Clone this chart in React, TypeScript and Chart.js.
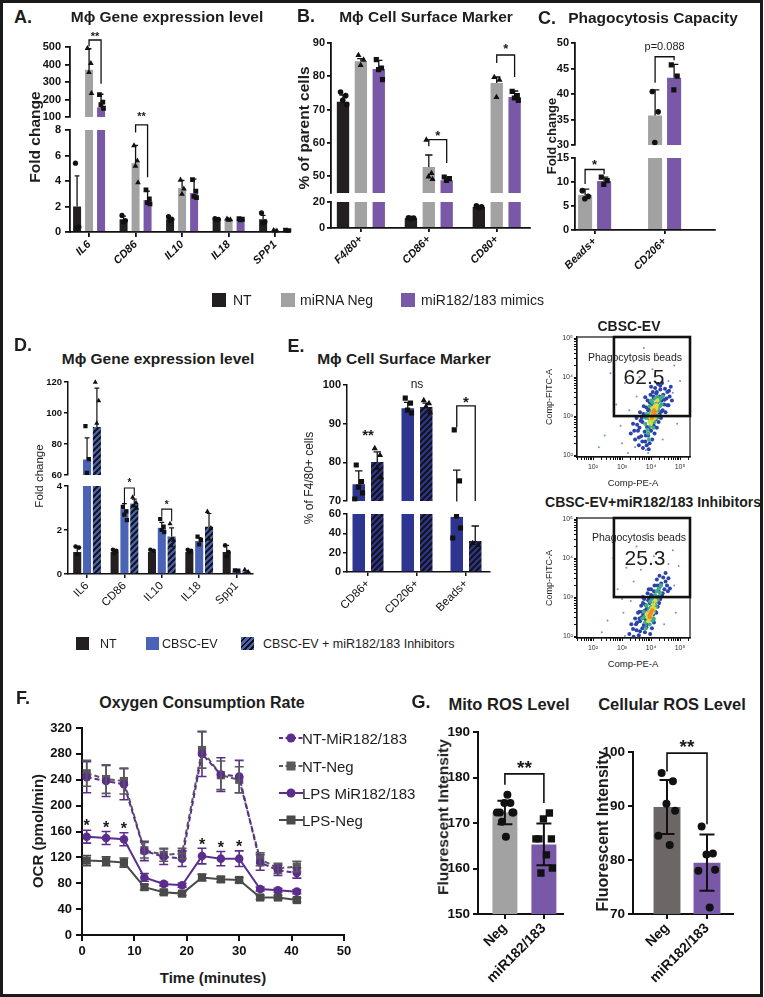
import React, { useEffect, useRef } from "react";
import { Chart, registerables } from "chart.js";

Chart.register(...registerables);

const FONT = "'Liberation Sans', Arial, Helvetica, sans-serif";
Chart.defaults.font.family = FONT;
Chart.defaults.color = "#111";

// ---------- colours ----------
const C_BLACK = "#231f20";
const C_GRAY = "#a2a2a2";
const C_PURPLE = "#7a58a8";
const C_BLUE_D = "#4a63b6";
const C_BLUE_E = "#2e3591";
const C_F_PURPLE = "#5b2e8e";
const C_F_GRAY = "#4a4a4a";
const C_G_DGRAY = "#6d6666";

// ---------- A ----------
const A_CATS = ["IL6", "CD86", "IL10", "IL18", "SPP1"];
const A_NT = [2.0, 1.0, 1.0, 1.0, 1.0];
const A_NT_SD = [2.4, 0.25, 0.15, 0.05, 0.3];
const A_NT_PTS = [[5.4, 0.4, 0.3], [1.3, 0.9, 0.8], [1.2, 1.0, 0.9], [1.05, 1.0, 0.95], [1.5, 0.8, 0.7]];
const A_NEG = [370, 5.4, 3.45, 1.0, 0.1];
const A_NEG_SD = [120, 1.4, 0.6, 0.05, 0.04];
const A_NEG_PTS = [[494, 408, 357, 237], [6.8, 5.6, 5.2, 3.9], [4.1, 3.4, 3.0], [1.05, 1.0, 0.95], [0.14, 0.1, 0.06]];
const A_MIR = [155, 2.5, 3.05, 1.0, 0.1];
const A_MIR_SD = [75, 0.7, 1.1, 0.05, 0.04];
const A_MIR_PTS = [[228, 185, 170, 150], [3.3, 2.6, 2.3, 2.2], [4.1, 3.2, 2.8, 2.7], [1.05, 1.0, 0.95], [0.14, 0.1, 0.06]];

// ---------- B ----------
const B_CATS = ["F4/80+", "CD86+", "CD80+"];
const B_NT = [72.4, 7.6, 16.2];
const B_NT_SD = [2.0, 0.3, 0.6];
const B_NT_PTS = [[75.3, 74.2, 72.8, 71.5], [7.9, 7.6, 7.4], [17.0, 16.3, 15.8]];
const B_NEG = [84.5, 52.8, 78.0];
const B_NEG_SD = [0.8, 3.6, 1.8];
const B_NEG_PTS = [[86.4, 85.0, 83.4], [61.0, 51.0, 50.0, 49.2], [79.8, 79.0, 73.8]];
const B_MIR = [82.2, 48.8, 73.8];
const B_MIR_SD = [2.6, 0.6, 1.8];
const B_MIR_PTS = [[85.0, 82.5, 82.0, 79.0], [49.8, 49.3, 48.8], [75.5, 74.2, 73.5, 72.8]];

// ---------- C ----------
const C_CATS = ["Beads+", "CD206+"];
const C_NEG = [7.3, 35.8];
const C_NEG_SD = [1.2, 5.0];
const C_NEG_PTS = [[8.2, 7.0, 6.5], [40.5, 36.5, 30.5]];
const C_MIR = [10.2, 43.2];
const C_MIR_SD = [0.8, 2.6];
const C_MIR_PTS = [[11.0, 10.3, 9.5], [45.7, 43.5, 40.8]];

// ---------- D ----------
const D_CATS = ["IL6", "CD86", "IL10", "IL18", "Spp1"];
const D_NT = [1.0, 1.0, 1.0, 1.0, 1.0];
const D_NT_SD = [0.2, 0.08, 0.1, 0.1, 0.3];
const D_NT_PTS = [[1.25, 1.2, 0.9], [1.1, 1.05, 0.95], [1.1, 1.05], [1.1, 1.05, 1.0], [1.3, 1.0, 0.8]];
const D_EV = [70, 2.95, 2.1, 1.5, 0.15];
const D_EV_SD = [14, 0.25, 0.25, 0.15, 0.02];
const D_EV_PTS = [[91.6, 70.3, 61.3], [3.05, 2.85, 2.7, 2.45], [2.5, 2.15, 2.0, 1.9], [1.7, 1.55, 1.35], [0.16, 0.15]];
const D_INH = [91, 3.2, 1.7, 2.15, 0.12];
const D_INH_SD = [25, 0.2, 0.4, 0.6, 0.03];
const D_INH_PTS = [[120, 108, 93.5], [3.5, 3.25, 3.1, 3.0], [2.3, 1.55, 1.3], [2.85, 2.1, 1.6], [0.2, 0.1]];

// ---------- E ----------
const E_CATS = ["CD86+", "CD206+", "Beads+"];
const E_EV = [74.3, 94.0, 57.0];
const E_EV_SD = [3.5, 1.5, 21.0];
const E_EV_PTS = [[79.3, 75.0, 73.6, 72.1, 70.5], [96.6, 95.3, 93.5, 92.8], [88.4, 75.2, 58.0, 45.5, 35.2]];
const E_INH = [80.1, 94.3, 32.1];
const E_INH_SD = [2.6, 1.0, 15.5];
const E_INH_PTS = [[83.7, 81.9, 78.6, 76.2], [96.1, 95.3, 94.5, 93.0], [30.0, 28.0]];

// ---------- flow cytometry (log10 PE, log10 FITC) ----------
const FLOW_GATE_PE = 525;
const FLOW_GATE_FITC = 1000;
const FLOW1_OUT = [[2.4, 2.5], [2.8, 3.3], [3.0, 2.3], [3.1, 3.85], [2.6, 4.1], [3.4, 4.4], [4.2, 4.6], [4.9, 2.8], [5.0, 3.9], [2.2, 2.2], [3.6, 4.0], [4.8, 4.3], [3.2, 2.05], [2.95, 2.75], [4.4, 2.4], [3.75, 4.75], [3.9, 2.05], [3.82, 2.12], [3.5, 3.5], [4.6, 3.9], [3.25, 3.15], [4.75, 3.6], [3.45, 2.2], [4.05, 4.2]];
const FLOW1_BLUE = [[3.3, 2.55], [3.38, 2.8], [3.45, 2.4], [3.5, 2.95], [3.55, 2.62], [3.58, 2.25], [3.62, 3.1], [3.66, 2.48], [3.7, 2.85], [3.72, 2.18], [3.75, 3.25], [3.78, 2.6], [3.8, 2.35], [3.83, 3.0], [3.86, 2.72], [3.88, 3.4], [3.9, 2.5], [3.92, 2.15], [3.94, 3.18], [3.96, 2.88], [3.98, 3.55], [4.0, 2.62], [4.02, 3.3], [4.04, 2.4], [4.06, 3.62], [4.08, 2.78], [4.1, 3.45], [4.12, 2.55], [4.14, 3.72], [4.16, 2.92], [4.18, 3.58], [4.2, 2.7], [4.22, 3.35], [4.24, 3.82], [4.26, 2.85], [4.28, 3.5], [4.3, 3.05], [4.32, 3.68], [4.34, 2.95], [4.36, 3.4], [4.38, 3.85], [4.4, 3.15], [4.42, 3.55], [4.45, 3.3], [4.48, 3.7], [4.5, 3.1], [4.53, 3.45], [4.56, 3.62], [4.6, 3.28], [4.64, 3.5], [4.68, 3.75], [4.72, 3.4], [3.85, 2.25], [3.95, 2.3], [3.68, 2.95], [3.6, 2.7], [4.05, 2.95], [4.25, 3.15], [3.9, 3.15], [4.15, 3.1], [3.42, 2.62], [3.52, 2.78], [3.64, 2.88], [3.74, 3.05], [3.84, 3.22], [3.96, 3.35], [4.08, 3.5], [4.2, 3.62], [4.32, 3.78], [3.7, 2.35], [3.82, 2.5], [3.92, 2.68], [4.02, 2.8], [4.12, 2.72], [4.24, 2.98], [4.36, 3.12], [4.46, 3.42], [4.56, 3.28], [3.58, 2.45], [4.62, 3.65], [4.0, 3.75], [3.8, 3.48]];
const FLOW1_GREEN = [[3.8, 2.8], [3.85, 3.05], [3.88, 2.65], [3.92, 2.95], [3.95, 3.25], [3.98, 2.75], [4.0, 3.1], [4.02, 2.85], [4.05, 3.35], [4.07, 3.0], [4.1, 3.2], [4.12, 2.85], [4.14, 3.45], [4.16, 3.05], [4.18, 3.3], [4.2, 2.95], [4.22, 3.5], [4.24, 3.15], [4.27, 3.38], [4.3, 3.25], [4.33, 3.45], [4.36, 3.3], [3.9, 2.55], [3.93, 2.4], [4.0, 3.4], [3.82, 2.95], [4.08, 2.7], [4.26, 3.0], [4.4, 3.5], [3.96, 3.05]];
const FLOW1_YEL = [[3.98, 2.95], [4.02, 3.05], [4.05, 2.9], [4.08, 3.12], [4.1, 3.0], [4.12, 3.25], [4.15, 3.1], [4.18, 3.18], [4.04, 3.2], [4.2, 3.28], [3.95, 2.85], [4.13, 2.95], [4.0, 2.8], [4.22, 3.4]];
const FLOW1_ORG = [[4.05, 3.02], [4.08, 3.08], [4.11, 3.05], [4.1, 3.15], [4.03, 2.95], [4.14, 3.12]];

const FLOW2_OUT = [[2.5, 2.4], [2.85, 3.2], [3.05, 2.6], [3.15, 3.75], [2.7, 4.0], [3.5, 4.3], [4.3, 4.5], [4.85, 2.6], [4.95, 3.8], [2.3, 2.1], [3.65, 3.7], [4.75, 4.2], [3.1, 2.0], [3.0, 2.95], [4.45, 2.3], [3.85, 4.6], [3.4, 3.4], [4.6, 3.85], [3.3, 2.9], [4.8, 3.3], [3.55, 1.98], [4.1, 4.05]];
const FLOW2_BLUE = [[3.25, 2.05], [3.32, 2.3], [3.4, 1.98], [3.45, 2.45], [3.5, 2.15], [3.55, 2.6], [3.58, 2.02], [3.62, 2.38], [3.66, 2.78], [3.7, 2.2], [3.73, 2.55], [3.76, 2.95], [3.79, 2.1], [3.82, 2.42], [3.85, 2.7], [3.88, 3.1], [3.9, 2.3], [3.92, 2.58], [3.95, 2.85], [3.97, 2.05], [4.0, 3.2], [4.02, 2.45], [4.05, 2.72], [4.08, 3.02], [4.1, 2.35], [4.12, 3.3], [4.15, 2.62], [4.18, 2.9], [4.2, 3.45], [4.23, 2.75], [4.26, 3.15], [4.29, 3.55], [4.32, 2.95], [4.35, 3.35], [4.38, 3.05], [4.42, 3.5], [4.46, 3.2], [4.5, 3.62], [4.55, 3.3], [4.6, 3.48], [4.65, 3.22], [3.6, 2.62], [3.72, 2.85], [3.84, 2.22], [3.93, 2.95], [4.03, 2.2], [4.13, 2.8], [4.25, 3.0], [3.68, 2.48], [3.87, 2.52], [4.07, 2.55], [4.3, 3.28], [3.78, 2.65], [3.98, 2.68], [3.38, 2.18], [3.48, 2.3], [3.6, 2.45], [3.7, 2.62], [3.8, 2.8], [3.9, 2.92], [4.0, 3.05], [4.1, 3.15], [4.22, 3.3], [3.62, 2.12], [3.75, 2.28], [3.86, 2.4], [3.96, 2.5], [4.08, 2.42], [4.18, 2.6], [4.28, 2.85], [4.4, 3.1], [4.5, 3.4], [3.52, 2.35], [4.58, 3.15], [3.92, 3.2], [3.72, 3.0]];
const FLOW2_GREEN = [[3.7, 2.45], [3.75, 2.62], [3.8, 2.35], [3.84, 2.78], [3.88, 2.55], [3.91, 2.4], [3.94, 2.7], [3.97, 2.88], [4.0, 2.55], [4.03, 2.95], [4.06, 2.68], [4.09, 2.45], [4.11, 2.85], [4.14, 3.05], [4.17, 2.75], [4.2, 3.15], [4.23, 2.95], [4.27, 3.22], [4.31, 3.1], [3.82, 2.2], [3.78, 2.5], [3.95, 2.3], [4.05, 2.4], [4.18, 2.92], [4.34, 3.3], [3.92, 2.6], [4.0, 2.75], [4.1, 2.62]];
const FLOW2_YEL = [[3.88, 2.48], [3.92, 2.58], [3.95, 2.45], [3.98, 2.65], [4.0, 2.52], [4.03, 2.72], [4.06, 2.6], [4.09, 2.8], [3.9, 2.38], [4.12, 2.7], [4.15, 2.9], [3.85, 2.55]];
const FLOW2_ORG = [[3.94, 2.52], [3.98, 2.58], [4.01, 2.62], [3.96, 2.48], [4.04, 2.66]];

// ---------- F ----------
const F_TIME = [0.9, 4.6, 8.0, 11.9, 15.6, 19.1, 22.9, 26.5, 30.0, 34.0, 37.4, 41.0];
const F_NT_MIR = [244, 238, 233, 130, 121, 118, 280, 248, 245, 112, 100, 96];
const F_NT_MIR_SD = [24, 24, 24, 15, 12, 12, 35, 26, 25, 12, 8, 8];
const F_NT_NEG = [250, 241, 238, 131, 124, 126, 286, 247, 240, 117, 103, 106];
const F_NT_NEG_SD = [20, 22, 20, 12, 10, 8, 28, 22, 20, 10, 8, 8];
const F_LPS_MIR = [152, 150, 148, 89, 79, 77, 122, 118, 118, 71, 69, 67];
const F_LPS_MIR_SD = [10, 10, 10, 6, 3, 3, 12, 11, 12, 3, 3, 3];
const F_LPS_NEG = [115, 114, 112, 74, 66, 64, 89, 86, 85, 58, 58, 54];
const F_LPS_NEG_SD = [8, 7, 7, 4, 3, 3, 5, 4, 4, 3, 3, 3];
const F_STAR_IDX = [0, 1, 2, 6, 7, 8];
const F_LABELS = ["NT-MiR182/183", "NT-Neg", "LPS MiR182/183", "LPS-Neg"];
const F_X_TICKS = [0, 10, 20, 30, 40, 50];
const F_Y_TICKS = [0, 40, 80, 120, 160, 200, 240, 280, 320];

// ---------- G ----------
const G_CATS = ["Neg", "miR182/183"];
const G_MITO = [172.3, 165.3];
const G_MITO_SD = [2.6, 4.6];
const G_MITO_PTS = [[172.3, 174.4, 174.4, 172.3, 172.3, 176.2, 172.3, 170.3, 167.0], [166.5, 172.2, 170.9, 166.5, 166.5, 163.0, 160.1, 159.0]];
const G_CELL = [89.8, 79.5];
const G_CELL_SD = [5.0, 5.2];
const G_CELL_PTS = [[96.1, 94.6, 90.4, 89.1, 84.5, 82.8], [86.2, 81.2, 81.0, 78.2, 78.0, 71.2]];

// ---------- helpers ----------
const JIT = [-0.2, 0.22, -0.02, 0.3, -0.32, 0.1, 0.34, -0.12, 0.04];

function makeHatch(base: string) {
  const s = 6;
  const c = document.createElement("canvas");
  c.width = s;
  c.height = s;
  const g = c.getContext("2d")!;
  g.fillStyle = base;
  g.fillRect(0, 0, s, s);
  g.strokeStyle = "#141414";
  g.lineWidth = 2.1;
  g.beginPath();
  g.moveTo(0, s);
  g.lineTo(s, 0);
  g.moveTo(-s / 2, s / 2);
  g.lineTo(s / 2, -s / 2);
  g.moveTo(s / 2, s * 1.5);
  g.lineTo(s * 1.5, s / 2);
  g.stroke();
  return g.createPattern(c, "repeat")!;
}

function drawMarker(ctx: any, m: string, x: number, y: number, r: number) {
  ctx.beginPath();
  if (m === "circle") {
    ctx.arc(x, y, r, 0, Math.PI * 2);
  } else if (m === "square") {
    const h = r * 0.92;
    ctx.rect(x - h, y - h, 2 * h, 2 * h);
  } else if (m === "triangle") {
    ctx.moveTo(x, y - r * 1.2);
    ctx.lineTo(x + r * 1.1, y + r * 0.75);
    ctx.lineTo(x - r * 1.1, y + r * 0.75);
    ctx.closePath();
  } else {
    ctx.moveTo(x, y + r * 1.2);
    ctx.lineTo(x + r * 1.1, y - r * 0.75);
    ctx.lineTo(x - r * 1.1, y - r * 0.75);
    ctx.closePath();
  }
  ctx.fill();
}

function drawText(ctx: any, text: string, x: number, yc: number, size: number, weight: string) {
  ctx.font = `${weight} ${size}px ${FONT}`;
  ctx.fillStyle = "#1a1a1a";
  ctx.textAlign = "center";
  if (/^\*+$/.test(text)) {
    ctx.textBaseline = "alphabetic";
    ctx.fillText(text, x, yc + size * 0.58);
  } else {
    ctx.textBaseline = "middle";
    ctx.fillText(text, x, yc);
  }
}

function barExtras(seg: any) {
  return {
    id: "barExtras",
    afterDatasetsDraw(chart: any) {
      const { ctx, chartArea: ca } = chart;
      const ys = chart.scales.y;
      const py = (v: number) => ys.getPixelForValue(v);
      ctx.save();
      ctx.beginPath();
      ctx.rect(ca.left - 30, ca.top - seg.clipTop, ca.right - ca.left + 60, ca.bottom - ca.top + seg.clipTop + 0.5);
      ctx.clip();
      seg.series.forEach((s: any, di: number) => {
        const meta = chart.getDatasetMeta(di);
        meta.data.forEach((bar: any, i: number) => {
          const x = bar.x;
          const w = bar.width;
          const m = s.values[i];
          const sd = s.sd[i];
          const cap = Math.min(w * 0.6, seg.capMax);
          ctx.strokeStyle = "#111";
          ctx.lineWidth = seg.errW;
          if (sd > 0) {
            const top = py(m + sd);
            const bot = seg.err === "both" ? py(m - sd) : py(m);
            ctx.beginPath();
            ctx.moveTo(x, bot);
            ctx.lineTo(x, top);
            ctx.moveTo(x - cap / 2, top);
            ctx.lineTo(x + cap / 2, top);
            if (seg.err === "both") {
              ctx.moveTo(x - cap / 2, bot);
              ctx.lineTo(x + cap / 2, bot);
            }
            ctx.stroke();
          }
          ctx.fillStyle = s.mcolor;
          const mk = Array.isArray(s.marker) ? s.marker[i] : s.marker;
          (s.pts[i] || []).forEach((v: number, k: number) => {
            drawMarker(ctx, mk, x + JIT[k % JIT.length] * w, py(v), seg.markerR);
          });
        });
      });
      ctx.restore();
      ctx.save();
      (seg.brackets || []).forEach((b: any) => {
        const x1 = chart.getDatasetMeta(b.a[0]).data[b.a[1]].x;
        const x2 = chart.getDatasetMeta(b.b[0]).data[b.b[1]].x;
        if (b.y !== undefined) {
          ctx.strokeStyle = "#111";
          ctx.lineWidth = b.lw || 1.3;
          ctx.beginPath();
          ctx.moveTo(x1, py(b.ya));
          ctx.lineTo(x1, py(b.y));
          ctx.lineTo(x2, py(b.y));
          ctx.lineTo(x2, py(b.yb));
          ctx.stroke();
        }
        drawText(ctx, b.text, (x1 + x2) / 2, py(b.ty), b.size, b.weight);
      });
      ctx.restore();
    },
  };
}

function segRect(s: any) {
  return { x: s.L - s.W, y: s.T - s.pt, w: s.W + (s.R - s.L) + s.pr, h: s.pt + (s.B - s.T) + s.H + s.pb };
}

function makeBar(canvas: HTMLCanvasElement, seg: any) {
  const datasets = seg.series.map((s: any) => ({
    data: s.values.map((v: number, i: number) => ({ x: i + 1, y: v })),
    backgroundColor: s.hatch ? makeHatch(s.hatch) : s.fill,
    borderWidth: 0,
    categoryPercentage: seg.catPct,
    barPercentage: seg.barPct,
    clip: 0,
  }));
  const grid = { display: true, drawOnChartArea: false, drawTicks: true, tickLength: seg.tickLen, color: "#111", lineWidth: seg.axisW, offset: false };
  const border = { display: true, color: "#111", width: seg.axisW };
  return new Chart(canvas, {
    type: "bar",
    data: { datasets },
    options: {
      responsive: false,
      animation: false,
      events: [],
      layout: { padding: { left: 0, top: seg.pt, right: seg.pr, bottom: seg.pb } },
      plugins: { legend: { display: false }, tooltip: { enabled: false } },
      scales: {
        x: {
          type: "linear",
          min: seg.xMin,
          max: seg.xMax,
          offset: false,
          display: seg.showX,
          afterBuildTicks: (s: any) => {
            s.ticks = seg.cats.map((_: string, i: number) => ({ value: i + 1 }));
          },
          afterFit: (s: any) => {
            s.height = seg.H;
            s.paddingLeft = 0;
            s.paddingRight = 0;
            s.paddingTop = 0;
            s.paddingBottom = 0;
          },
          ticks: {
            autoSkip: false,
            minRotation: seg.rot,
            maxRotation: seg.rot,
            padding: 1,
            font: seg.xFont,
            color: "#111",
            callback: (v: number) => seg.cats[Math.round(v) - 1] ?? "",
          },
          grid,
          border,
        },
        y: {
          type: "linear",
          min: seg.yMin,
          max: seg.yMax,
          afterBuildTicks: (s: any) => {
            s.ticks = seg.yTicks.map((v: number) => ({ value: v }));
          },
          afterFit: (s: any) => {
            s.width = seg.W;
            s.paddingLeft = 0;
            s.paddingRight = 0;
            s.paddingTop = 0;
            s.paddingBottom = 0;
          },
          ticks: { padding: seg.tickPad, font: seg.tickFont, color: "#111", callback: (v: number) => String(v) },
          grid,
          border,
        },
      },
    },
    plugins: [barExtras(seg)],
  } as any);
}

function ChartCanvas({ rect, make }: { rect: any; make: (c: HTMLCanvasElement) => Chart }) {
  const ref = useRef<HTMLCanvasElement | null>(null);
  useEffect(() => {
    const ch = make(ref.current!);
    return () => ch.destroy();
  }, []);
  return (
    <canvas
      ref={ref}
      width={rect.w}
      height={rect.h}
      style={{ position: "absolute", left: rect.x, top: rect.y, width: rect.w, height: rect.h }}
    />
  );
}

function BarSeg({ seg }: { seg: any }) {
  return <ChartCanvas rect={segRect(seg)} make={(c) => makeBar(c, seg)} />;
}

// ---------- panel specs ----------
const SER_A = [
  { values: A_NT, sd: A_NT_SD, pts: A_NT_PTS, fill: C_BLACK, marker: "circle", mcolor: "#111" },
  { values: A_NEG, sd: A_NEG_SD, pts: A_NEG_PTS, fill: C_GRAY, marker: "triangle", mcolor: "#111" },
  { values: A_MIR, sd: A_MIR_SD, pts: A_MIR_PTS, fill: C_PURPLE, marker: "square", mcolor: "#111" },
];
const BASE_A = {
  L: 70, R: 290, W: 36, pr: 6, xMin: 0.59, xMax: 5.32, cats: A_CATS, catPct: 0.774, barPct: 0.667, series: SER_A, rot: 45,
  tickFont: { size: 11, weight: "bold" }, xFont: { size: 11, weight: "bold", style: "italic" },
  axisW: 1.8, tickLen: 5, tickPad: 4, markerR: 2.6, err: "up", capMax: 8, errW: 1.3,
};
const SEG_A_TOP = {
  ...BASE_A, T: 47, B: 117, pt: 22, pb: 6, H: 0, showX: false, yMin: 100, yMax: 500, yTicks: [100, 200, 300, 400, 500], clipTop: 6,
  brackets: [{ a: [1, 0], b: [2, 0], y: 540, ya: 505, yb: 290, text: "**", ty: 578, size: 11, weight: "bold" }],
};
const SEG_A_BOT = {
  ...BASE_A, T: 130, B: 232, pt: 24, pb: 2, H: 42, showX: true, yMin: 0, yMax: 8, yTicks: [0, 2, 4, 6, 8], clipTop: 0,
  brackets: [{ a: [1, 1], b: [2, 1], y: 8.4, ya: 7.8, yb: 4.3, text: "**", ty: 9.3, size: 11, weight: "bold" }],
};

const SER_B = [
  { values: B_NT, sd: B_NT_SD, pts: B_NT_PTS, fill: C_BLACK, marker: "circle", mcolor: "#111" },
  { values: B_NEG, sd: B_NEG_SD, pts: B_NEG_PTS, fill: C_GRAY, marker: "triangle", mcolor: "#111" },
  { values: B_MIR, sd: B_MIR_SD, pts: B_MIR_PTS, fill: C_PURPLE, marker: "square", mcolor: "#111" },
];
const BASE_B = {
  L: 331, R: 530, W: 30, pr: 6, xMin: 0.56, xMax: 3.49, cats: B_CATS, catPct: 0.79, barPct: 0.69, series: SER_B, rot: 45,
  tickFont: { size: 11, weight: "bold" }, xFont: { size: 11, weight: "bold", style: "italic" },
  axisW: 1.8, tickLen: 4, tickPad: 2, markerR: 2.8, err: "up", capMax: 9, errW: 1.3,
};
const SEG_B_TOP = {
  ...BASE_B, T: 43, B: 193, pt: 16, pb: 4, H: 0, showX: false, yMin: 45, yMax: 90, yTicks: [50, 60, 70, 80, 90], clipTop: 6,
  brackets: [
    { a: [1, 1], b: [2, 1], y: 61, ya: 59, yb: 54, text: "*", ty: 63.2, size: 13, weight: "bold" },
    { a: [1, 2], b: [2, 2], y: 86.4, ya: 84, yb: 79.8, text: "*", ty: 89.4, size: 13, weight: "bold" },
  ],
};
const SEG_B_BOT = { ...BASE_B, T: 202, B: 228, pt: 6, pb: 2, H: 46, showX: true, yMin: 0, yMax: 20, yTicks: [0, 10, 20], clipTop: 0, brackets: [] };

const SER_C = [
  { values: C_NEG, sd: C_NEG_SD, pts: C_NEG_PTS, fill: C_GRAY, marker: "circle", mcolor: "#111" },
  { values: C_MIR, sd: C_MIR_SD, pts: C_MIR_PTS, fill: C_PURPLE, marker: "square", mcolor: "#111" },
];
const BASE_C = {
  L: 575, R: 715, W: 30, pr: 6, xMin: 0.72, xMax: 2.72, cats: C_CATS, catPct: 0.543, barPct: 0.74, series: SER_C, rot: 45,
  tickFont: { size: 11, weight: "bold" }, xFont: { size: 11, weight: "bold", style: "italic" },
  axisW: 1.8, tickLen: 4, tickPad: 2, markerR: 2.8, err: "up", capMax: 9, errW: 1.3,
};
const SEG_C_TOP = {
  ...BASE_C, T: 43, B: 145, pt: 16, pb: 4, H: 0, showX: false, yMin: 30, yMax: 50, yTicks: [30, 35, 40, 45, 50], clipTop: 6,
  brackets: [{ a: [0, 1], b: [1, 1], y: 47.3, ya: 42.2, yb: 46.6, text: "p=0.088", ty: 49.3, size: 11, weight: "normal" }],
};
const SEG_C_BOT = {
  ...BASE_C, T: 158, B: 230, pt: 26, pb: 2, H: 48, showX: true, yMin: 0, yMax: 15, yTicks: [0, 5, 10, 15], clipTop: 0,
  brackets: [{ a: [0, 0], b: [1, 0], y: 12.6, ya: 9.6, yb: 11.6, text: "*", ty: 14.2, size: 13, weight: "bold" }],
};

const SER_D = [
  { values: D_NT, sd: D_NT_SD, pts: D_NT_PTS, fill: C_BLACK, marker: "circle", mcolor: "#111" },
  { values: D_EV, sd: D_EV_SD, pts: D_EV_PTS, fill: C_BLUE_D, marker: "square", mcolor: "#111" },
  { values: D_INH, sd: D_INH_SD, pts: D_INH_PTS, hatch: C_BLUE_D, marker: "triangle", mcolor: "#111" },
];
const BASE_D = {
  L: 68, R: 253, W: 28, pr: 6, xMin: 0.49, xMax: 5.44, cats: D_CATS, catPct: 0.79, barPct: 0.82, series: SER_D, rot: 45,
  tickFont: { size: 9.5, weight: "bold" }, xFont: { size: 11.5 },
  axisW: 1.5, tickLen: 4, tickPad: 2, markerR: 2.3, err: "up", capMax: 7, errW: 1.2,
};
const SEG_D_TOP = { ...BASE_D, T: 382, B: 475, pt: 10, pb: 4, H: 0, showX: false, yMin: 60, yMax: 120, yTicks: [60, 80, 100, 120], clipTop: 6, brackets: [] };
const SEG_D_BOT = {
  ...BASE_D, T: 486, B: 574, pt: 14, pb: 2, H: 44, showX: true, yMin: 0, yMax: 4, yTicks: [0, 2, 4], clipTop: 0,
  brackets: [
    { a: [1, 1], b: [2, 1], y: 3.91, ya: 3.1, yb: 3.55, text: "*", ty: 4.25, size: 10, weight: "bold", lw: 1.1 },
    { a: [1, 2], b: [2, 2], y: 2.95, ya: 2.6, yb: 2.4, text: "*", ty: 3.28, size: 10, weight: "bold", lw: 1.1 },
  ],
};

const SER_E = [
  { values: E_EV, sd: E_EV_SD, pts: E_EV_PTS, fill: C_BLUE_E, marker: "square", mcolor: "#111" },
  { values: E_INH, sd: E_INH_SD, pts: E_INH_PTS, hatch: C_BLUE_E, marker: "triangle", mcolor: "#111" },
];
const BASE_E = {
  L: 347, R: 490, W: 30, pr: 6, xMin: 0.571, xMax: 3.49, cats: E_CATS, catPct: 0.755, barPct: 0.676, series: SER_E, rot: 45,
  tickFont: { size: 11, weight: "bold" }, xFont: { size: 11.5 },
  axisW: 1.5, tickLen: 4, tickPad: 2, markerR: 2.8, err: "up", capMax: 8, errW: 1.3,
};
const SEG_E_TOP = {
  ...BASE_E, T: 385, B: 501, pt: 14, pb: 4, H: 0, showX: false, yMin: 70, yMax: 100, yTicks: [70, 80, 90, 100], clipTop: 6,
  brackets: [
    { a: [0, 0], b: [1, 0], text: "**", ty: 87.9, size: 15, weight: "bold" },
    { a: [0, 1], b: [1, 1], text: "ns", ty: 100, size: 12, weight: "normal" },
    { a: [0, 2], b: [1, 2], y: 94.6, ya: 89.1, yb: 70, text: "*", ty: 96.6, size: 15, weight: "bold" },
  ],
};
const SEG_E_BOT = { ...BASE_E, T: 514, B: 572, pt: 6, pb: 2, H: 48, showX: true, yMin: 0, yMax: 60, yTicks: [0, 20, 40, 60], clipTop: 0, brackets: [] };

const BASE_G = {
  W: 34, pr: 8, cats: G_CATS, rot: 45, showX: true, H: 80, pb: 2, clipTop: 8,
  tickFont: { size: 13.5, weight: "bold" }, xFont: { size: 14, weight: "bold" },
  axisW: 2, tickLen: 5, tickPad: 3, markerR: 4, err: "both", capMax: 15, errW: 2,
};
const SEG_G_MITO = {
  ...BASE_G, L: 478, R: 563, T: 732, B: 914, pt: 8, xMin: 0.31, xMax: 2.49, catPct: 0.8, barPct: 0.8,
  yMin: 150, yMax: 190, yTicks: [150, 160, 170, 180, 190],
  series: [{ values: G_MITO, sd: G_MITO_SD, pts: G_MITO_PTS, fill: [C_GRAY, C_PURPLE], marker: ["circle", "square"], mcolor: "#111" }],
  brackets: [{ a: [0, 0], b: [0, 1], y: 180.8, ya: 178.4, yb: 174.4, text: "**", ty: 183.3, size: 19, weight: "bold", lw: 1.6 }],
};
const SEG_G_CELL = {
  ...BASE_G, L: 633, R: 733, T: 752, B: 914, pt: 24, xMin: 0.15, xMax: 2.65, catPct: 0.82, barPct: 0.82,
  yMin: 70, yMax: 100, yTicks: [70, 80, 90, 100],
  series: [{ values: G_CELL, sd: G_CELL_SD, pts: G_CELL_PTS, fill: [C_G_DGRAY, C_PURPLE], marker: ["circle", "circle"], mcolor: "#111" }],
  brackets: [{ a: [0, 0], b: [0, 1], y: 99.8, ya: 96.4, yb: 86.6, text: "**", ty: 101.8, size: 19, weight: "bold", lw: 1.6 }],
};

// ---------- F chart ----------
const F_RECT = { L: 82, R: 344, T: 728, B: 935, W: 36, H: 30, pt: 10, pr: 10, pb: 2 };

function makeF(canvas: HTMLCanvasElement) {
  const series = [
    { label: F_LABELS[0], v: F_NT_MIR, sd: F_NT_MIR_SD, color: C_F_PURPLE, dash: [5, 3], style: "circle", r: 4.3 },
    { label: F_LABELS[1], v: F_NT_NEG, sd: F_NT_NEG_SD, color: "#5a5a5a", dash: [5, 3], style: "rect", r: 5.8 },
    { label: F_LABELS[2], v: F_LPS_MIR, sd: F_LPS_MIR_SD, color: C_F_PURPLE, dash: [], style: "circle", r: 4.3 },
    { label: F_LABELS[3], v: F_LPS_NEG, sd: F_LPS_NEG_SD, color: C_F_GRAY, dash: [], style: "rect", r: 5.8 },
  ];
  const errPlugin = {
    id: "fErr",
    afterDatasetsDraw(chart: any) {
      const { ctx } = chart;
      const ys = chart.scales.y;
      ctx.save();
      series.forEach((s, di) => {
        const meta = chart.getDatasetMeta(di);
        ctx.strokeStyle = s.color;
        ctx.lineWidth = 1.6;
        meta.data.forEach((p: any, i: number) => {
          const t = ys.getPixelForValue(s.v[i] + s.sd[i]);
          const b = ys.getPixelForValue(s.v[i] - s.sd[i]);
          ctx.beginPath();
          ctx.moveTo(p.x, t);
          ctx.lineTo(p.x, b);
          ctx.moveTo(p.x - 4.5, t);
          ctx.lineTo(p.x + 4.5, t);
          ctx.moveTo(p.x - 4.5, b);
          ctx.lineTo(p.x + 4.5, b);
          ctx.stroke();
        });
      });
      const meta = chart.getDatasetMeta(2);
      F_STAR_IDX.forEach((i) => {
        const p = meta.data[i];
        const yc = ys.getPixelForValue(F_LPS_MIR[i] + F_LPS_MIR_SD[i]) - 8;
        drawText(ctx, "*", p.x, yc, 16, "bold");
      });
      ctx.restore();
    },
  };
  const grid = { display: true, drawOnChartArea: false, drawTicks: true, tickLength: 6, color: "#111", lineWidth: 2 };
  const border = { display: true, color: "#111", width: 2 };
  return new Chart(canvas, {
    type: "line",
    data: {
      datasets: series.map((s) => ({
        label: s.label,
        data: F_TIME.map((t, i) => ({ x: t, y: s.v[i] })),
        borderColor: s.color,
        backgroundColor: s.color,
        borderWidth: 2,
        borderDash: s.dash,
        pointStyle: s.style,
        pointRadius: s.r,
        pointBackgroundColor: s.color,
        pointBorderWidth: 0,
        tension: 0,
      })),
    },
    options: {
      responsive: false,
      animation: false,
      events: [],
      layout: { padding: { left: 0, top: F_RECT.pt, right: F_RECT.pr, bottom: F_RECT.pb } },
      plugins: { legend: { display: false }, tooltip: { enabled: false } },
      scales: {
        x: {
          type: "linear",
          min: 0,
          max: 50,
          afterBuildTicks: (s: any) => {
            s.ticks = F_X_TICKS.map((v) => ({ value: v }));
          },
          afterFit: (s: any) => {
            s.height = F_RECT.H;
            s.paddingLeft = 0;
            s.paddingRight = 0;
          },
          ticks: { font: { size: 13, weight: "bold" }, color: "#111", padding: 3, maxRotation: 0, minRotation: 0 },
          grid,
          border,
        },
        y: {
          type: "linear",
          min: 0,
          max: 320,
          afterBuildTicks: (s: any) => {
            s.ticks = F_Y_TICKS.map((v) => ({ value: v }));
          },
          afterFit: (s: any) => {
            s.width = F_RECT.W;
            s.paddingTop = 0;
            s.paddingBottom = 0;
          },
          ticks: { font: { size: 13, weight: "bold" }, color: "#111", padding: 4 },
          grid,
          border,
        },
      },
    },
    plugins: [errPlugin],
  } as any);
}

// ---------- flow charts ----------
const SUP: Record<number, string> = { 1: "¹", 2: "²", 3: "³", 4: "⁴", 5: "⁵" };
function logTicks(min: number, max: number) {
  const out: any[] = [];
  for (let e = 1; e <= 5; e++) {
    for (let m = 1; m <= 9; m++) {
      const v = m * Math.pow(10, e);
      if (v >= min && v <= max) out.push({ value: v });
    }
  }
  return out;
}
function supLabel(v: number) {
  const e = Math.round(Math.log10(v));
  return Math.abs(v - Math.pow(10, e)) < 1e-6 * v ? "10" + SUP[e] : "";
}
const FLOW_X = { min: 28, max: 220000 };
const FLOW_Y = { min: 89, max: 107000 };

function makeFlow(canvas: HTMLCanvasElement, layers: any[], pad: any) {
  const gatePlugin = {
    id: "gate",
    afterDatasetsDraw(chart: any) {
      const { ctx, chartArea: ca } = chart;
      const gx = chart.scales.x.getPixelForValue(FLOW_GATE_PE);
      const gy = chart.scales.y.getPixelForValue(FLOW_GATE_FITC);
      ctx.save();
      ctx.strokeStyle = "#111";
      ctx.lineWidth = 1.2;
      ctx.strokeRect(ca.left, ca.top, ca.right - ca.left, ca.bottom - ca.top);
      ctx.lineWidth = 2.6;
      ctx.strokeRect(gx, ca.top, ca.right - gx, gy - ca.top);
      ctx.restore();
    },
  };
  const grid = { display: true, drawOnChartArea: false, drawTicks: true, tickLength: 3, color: "#111", lineWidth: 1 };
  const border = { display: true, color: "#111", width: 1.2 };
  return new Chart(canvas, {
    type: "scatter",
    data: {
      datasets: layers.map((l, k) => ({
        data: l.pts.map((p: number[]) => ({ x: Math.pow(10, p[0]), y: Math.pow(10, p[1]) })),
        pointRadius: l.r,
        pointBackgroundColor: l.color,
        pointBorderWidth: 0,
        showLine: false,
        clip: 0,
        order: layers.length - k,
      })),
    },
    options: {
      responsive: false,
      animation: false,
      events: [],
      layout: { padding: { left: 0, top: pad.pt, right: pad.pr, bottom: pad.pb } },
      plugins: { legend: { display: false }, tooltip: { enabled: false } },
      scales: {
        x: {
          type: "logarithmic",
          min: FLOW_X.min,
          max: FLOW_X.max,
          afterBuildTicks: (s: any) => {
            s.ticks = logTicks(FLOW_X.min, FLOW_X.max);
          },
          afterFit: (s: any) => {
            s.height = pad.H;
            s.paddingLeft = 0;
            s.paddingRight = 0;
          },
          ticks: { autoSkip: false, maxRotation: 0, minRotation: 0, font: { size: 7 }, color: "#333", padding: 3, callback: supLabel },
          grid,
          border,
        },
        y: {
          type: "logarithmic",
          min: FLOW_Y.min,
          max: FLOW_Y.max,
          afterBuildTicks: (s: any) => {
            s.ticks = logTicks(FLOW_Y.min, FLOW_Y.max);
          },
          afterFit: (s: any) => {
            s.width = pad.W;
            s.paddingTop = 0;
            s.paddingBottom = 0;
          },
          ticks: { autoSkip: false, font: { size: 7 }, color: "#333", padding: 1, callback: supLabel },
          grid,
          border,
        },
      },
    },
    plugins: [gatePlugin],
  } as any);
}

const FLOW_LAYERS_1 = [
  { pts: FLOW1_OUT, r: 1.0, color: "#6f8fd6" },
  { pts: FLOW1_BLUE, r: 2.0, color: "#2c44a8" },
  { pts: FLOW1_GREEN, r: 2.1, color: "#3fae86" },
  { pts: FLOW1_YEL, r: 2.1, color: "#dcdc3c" },
  { pts: FLOW1_ORG, r: 2.0, color: "#f08a2e" },
];
const FLOW_LAYERS_2 = [
  { pts: FLOW2_OUT, r: 1.0, color: "#6f8fd6" },
  { pts: FLOW2_BLUE, r: 2.0, color: "#2c44a8" },
  { pts: FLOW2_GREEN, r: 2.1, color: "#3fae86" },
  { pts: FLOW2_YEL, r: 2.1, color: "#dcdc3c" },
  { pts: FLOW2_ORG, r: 2.0, color: "#f08a2e" },
];
const FLOW_PAD = { W: 18, H: 16, pt: 4, pr: 4, pb: 2 };
function flowRect(L: number, T: number, R: number, B: number) {
  return { x: L - FLOW_PAD.W, y: T - FLOW_PAD.pt, w: FLOW_PAD.W + R - L + FLOW_PAD.pr, h: FLOW_PAD.pt + B - T + FLOW_PAD.H + FLOW_PAD.pb };
}

// ---------- text helpers ----------
function T(props: any) {
  const { x, y, s, w = "normal", rot, italic, children, anchor = "center", color = "#1d1d1d" } = props;
  const tx = anchor === "left" ? "translate(0,-50%)" : "translate(-50%,-50%)";
  return (
    <div
      style={{
        position: "absolute",
        left: x,
        top: y,
        transform: tx + (rot ? " rotate(-90deg)" : ""),
        fontFamily: FONT,
        fontSize: s,
        fontWeight: w as any,
        fontStyle: italic ? "italic" : "normal",
        whiteSpace: "nowrap",
        lineHeight: 1,
        color,
      }}
    >
      {children}
    </div>
  );
}

function Swatch({ x, y, size, bg }: any) {
  return <div style={{ position: "absolute", left: x, top: y, width: size, height: size, background: bg }} />;
}

function LegendLine({ x, y, color, dashed, marker }: any) {
  return (
    <svg width={24} height={14} style={{ position: "absolute", left: x, top: y - 7 }}>
      <line x1={0} y1={7} x2={24} y2={7} stroke={color} strokeWidth={2} strokeDasharray={dashed ? "4 2.5" : undefined} />
      {marker === "circle" ? <circle cx={12} cy={7} r={4.5} fill={color} /> : <rect x={7.5} y={2.5} width={9} height={9} fill={color} />}
    </svg>
  );
}

const HATCH_D_CSS = `repeating-linear-gradient(135deg, ${C_BLUE_D} 0px, ${C_BLUE_D} 2.2px, #141414 2.2px, #141414 4.2px)`;

export default function App() {
  return (
    <div
      style={{
        position: "absolute",
        left: 0,
        top: 0,
        width: 764,
        height: 997,
        background: "#fff",
        overflow: "hidden",
        fontFamily: FONT,
      }}
    >
      {/* charts */}
      <BarSeg seg={SEG_A_TOP} />
      <BarSeg seg={SEG_A_BOT} />
      <BarSeg seg={SEG_B_TOP} />
      <BarSeg seg={SEG_B_BOT} />
      <BarSeg seg={SEG_C_TOP} />
      <BarSeg seg={SEG_C_BOT} />
      <BarSeg seg={SEG_D_TOP} />
      <BarSeg seg={SEG_D_BOT} />
      <BarSeg seg={SEG_E_TOP} />
      <BarSeg seg={SEG_E_BOT} />
      <ChartCanvas rect={flowRect(577, 337, 690, 457)} make={(c) => makeFlow(c, FLOW_LAYERS_1, FLOW_PAD)} />
      <ChartCanvas rect={flowRect(577, 518, 690, 638)} make={(c) => makeFlow(c, FLOW_LAYERS_2, FLOW_PAD)} />
      <ChartCanvas
        rect={{ x: F_RECT.L - F_RECT.W, y: F_RECT.T - F_RECT.pt, w: F_RECT.W + F_RECT.R - F_RECT.L + F_RECT.pr, h: F_RECT.pt + F_RECT.B - F_RECT.T + F_RECT.H + F_RECT.pb }}
        make={makeF}
      />
      <BarSeg seg={SEG_G_MITO} />
      <BarSeg seg={SEG_G_CELL} />

      {/* Row 1 texts */}
      <T x={23} y={17} s={18} w="bold">A.</T>
      <T x={167} y={17} s={15.5} w="bold">Mϕ Gene expression level</T>
      <T x={35} y={137} s={15.5} w="bold" rot>Fold change</T>
      <T x={306} y={16} s={18} w="bold">B.</T>
      <T x={426} y={17} s={15.5} w="bold">Mϕ Cell Surface Marker</T>
      <T x={304} y={128} s={15.5} w="bold" rot>% of parent cells</T>
      <T x={547} y={18} s={18} w="bold">C.</T>
      <T x={653} y={18} s={15.5} w="bold">Phagocytosis Capacity</T>
      <T x={551} y={136} s={13} w="bold" rot>Fold change</T>

      {/* legend 1 */}
      <Swatch x={212} y={293} size={14} bg={C_BLACK} />
      <T x={233} y={300} s={14} anchor="left">NT</T>
      <Swatch x={281} y={293} size={14} bg={C_GRAY} />
      <T x={300} y={300} s={14} anchor="left">miRNA Neg</T>
      <Swatch x={401} y={293} size={14} bg={C_PURPLE} />
      <T x={421} y={300} s={14} anchor="left">miR182/183 mimics</T>

      {/* Row 2 texts */}
      <T x={23} y={345} s={18} w="bold">D.</T>
      <T x={158} y={359} s={15.5} w="bold">Mϕ Gene expression level</T>
      <T x={40} y={476} s={11.5} rot>Fold change</T>
      <T x={296} y={346} s={18} w="bold">E.</T>
      <T x={404} y={359} s={15.5} w="bold">Mϕ Cell Surface Marker</T>
      <T x={309} y={478} s={12} rot>% of F4/80+ cells</T>

      {/* flow texts */}
      <T x={629} y={326} s={14} w="bold">CBSC-EV</T>
      <T x={653} y={502} s={14} w="bold">CBSC-EV+miR182/183 Inhibitors</T>
      <T x={549} y={397} s={9} rot>Comp-FITC-A</T>
      <T x={549} y={578} s={9} rot>Comp-FITC-A</T>
      <T x={633} y={483} s={9.5}>Comp-PE-A</T>
      <T x={633} y={664} s={9.5}>Comp-PE-A</T>
      <T x={635} y={357} s={10.5}>Phagocytosis beads</T>
      <T x={644} y={376} s={21}>62.5</T>
      <T x={639} y={537} s={10.5}>Phagocytosis beads</T>
      <T x={645} y={557} s={21}>25.3</T>

      {/* legend 2 */}
      <Swatch x={76} y={637} size={13} bg={C_BLACK} />
      <T x={100} y={644} s={12.5} anchor="left">NT</T>
      <Swatch x={146} y={637} size={13} bg={C_BLUE_D} />
      <T x={162} y={644} s={12.5} anchor="left">CBSC-EV</T>
      <Swatch x={241} y={637} size={13} bg={HATCH_D_CSS} />
      <T x={263} y={644} s={12.5} anchor="left">CBSC-EV + miR182/183 Inhibitors</T>

      {/* F texts */}
      <T x={23} y={698} s={18} w="bold">F.</T>
      <T x={202} y={703} s={16} w="bold">Oxygen Consumption Rate</T>
      <T x={37} y={831} s={15} w="bold" rot>OCR (pmol/min)</T>
      <T x={213} y={977} s={15} w="bold">Time (minutes)</T>
      <LegendLine x={279} y={738} color={C_F_PURPLE} dashed marker="circle" />
      <T x={302} y={738} s={15} anchor="left">{F_LABELS[0]}</T>
      <LegendLine x={279} y={766} color="#5a5a5a" dashed marker="square" />
      <T x={302} y={766} s={15} anchor="left">{F_LABELS[1]}</T>
      <LegendLine x={279} y={793} color={C_F_PURPLE} marker="circle" />
      <T x={302} y={793} s={15} anchor="left">{F_LABELS[2]}</T>
      <LegendLine x={279} y={820} color={C_F_GRAY} marker="square" />
      <T x={302} y={820} s={15} anchor="left">{F_LABELS[3]}</T>

      {/* G texts */}
      <T x={421} y={702} s={18} w="bold">G.</T>
      <T x={509} y={704} s={16.5} w="bold">Mito ROS Level</T>
      <T x={672} y={704} s={16.5} w="bold">Cellular ROS Level</T>
      <T x={443} y={817} s={15.5} w="bold" rot>Fluorescent Intensity</T>
      <T x={603} y={831} s={16} w="bold" rot>Fluorescent Intensity</T>

      {/* outer frame */}
      <div
        style={{
          position: "absolute",
          left: 0,
          top: 0,
          width: 763,
          height: 997,
          border: "3px solid #1a1a1a",
          boxSizing: "border-box",
          pointerEvents: "none",
        }}
      />
    </div>
  );
}
